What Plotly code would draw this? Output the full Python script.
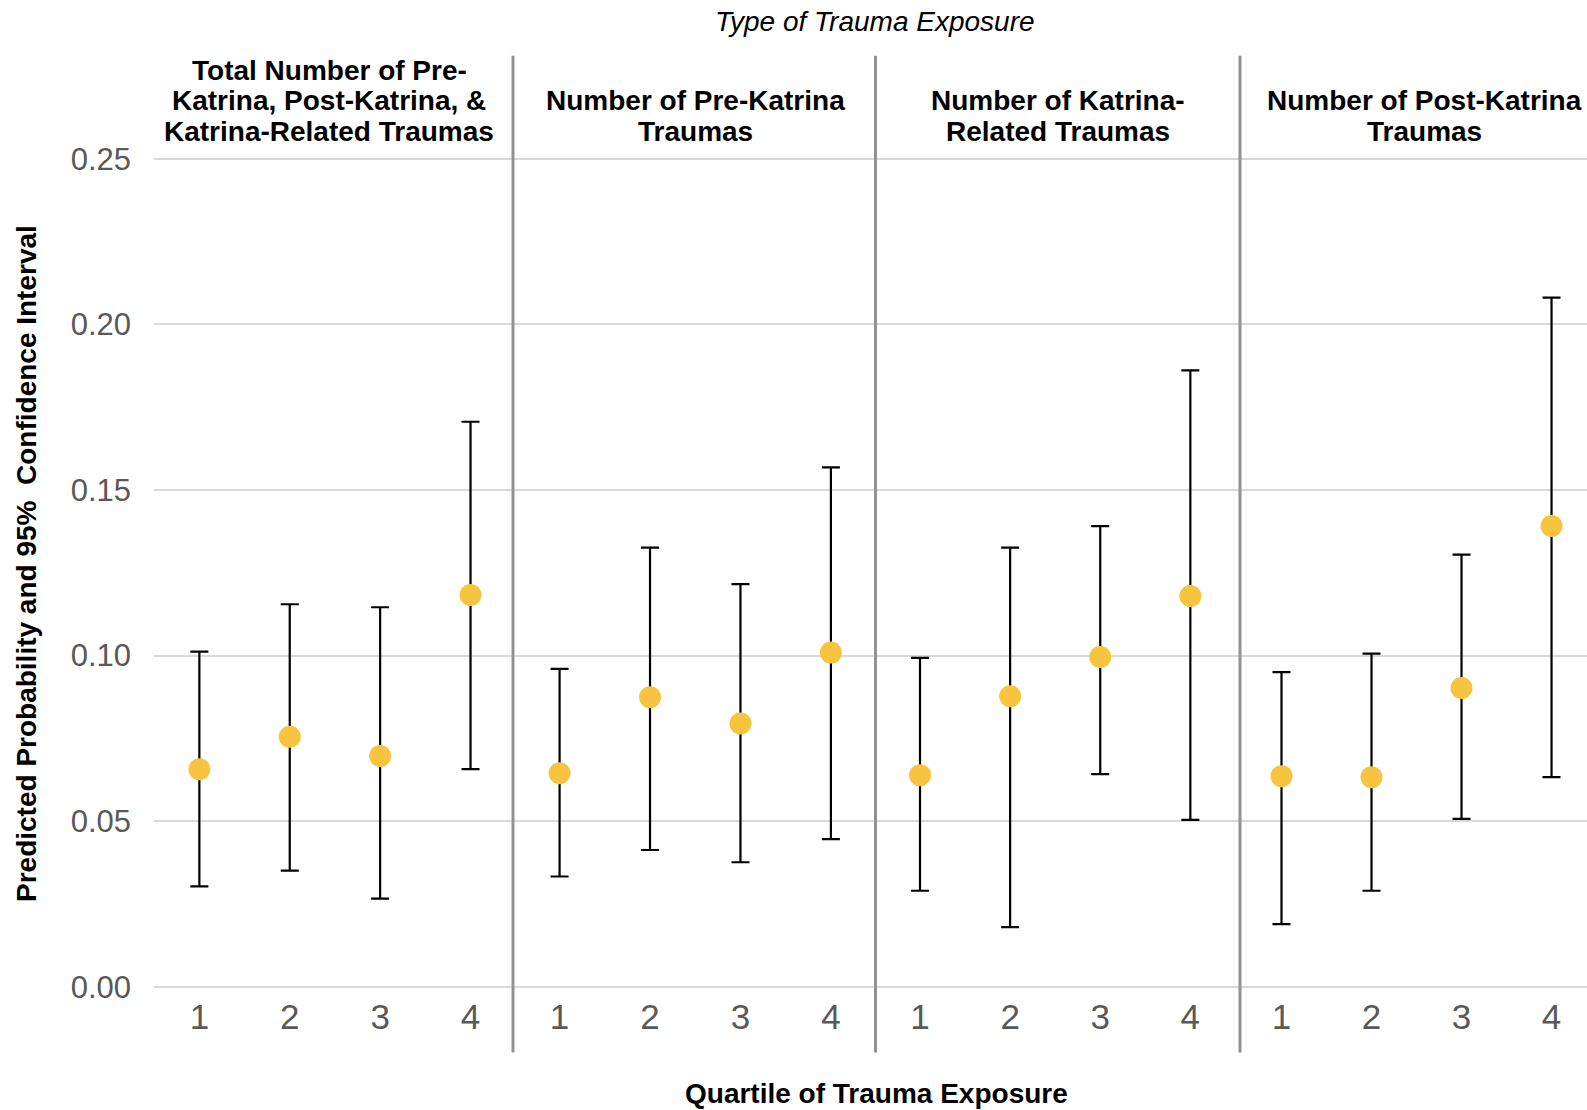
import plotly.graph_objects as go

# Quartiles of trauma exposure
quartiles = [1, 2, 3, 4]

# Panel titles (one entry per line of the strip label)
panel_titles = [
    ["Total Number of Pre-", "Katrina, Post-Katrina, &", "Katrina-Related Traumas"],
    ["Number of Pre-Katrina", "Traumas"],
    ["Number of Katrina-", "Related Traumas"],
    ["Number of Post-Katrina", "Traumas"],
]

# Predicted probabilities with 95% confidence limits, per panel
prob_total = [0.0657, 0.0755, 0.0697, 0.1183]
low_total = [0.0303, 0.0351, 0.0266, 0.0657]
high_total = [0.1012, 0.1155, 0.1146, 0.1706]

prob_pre = [0.0645, 0.0874, 0.0795, 0.1009]
low_pre = [0.0333, 0.0413, 0.0376, 0.0446]
high_pre = [0.0960, 0.1326, 0.1216, 0.1568]

prob_katrina = [0.0639, 0.0877, 0.0996, 0.1180]
low_katrina = [0.0290, 0.0180, 0.0642, 0.0504]
high_katrina = [0.0993, 0.1326, 0.1391, 0.1861]

prob_post = [0.0636, 0.0633, 0.0902, 0.1391]
low_post = [0.0189, 0.0290, 0.0507, 0.0633]
high_post = [0.0950, 0.1006, 0.1305, 0.2081]

y_ticks = [0.00, 0.05, 0.10, 0.15, 0.20, 0.25]

panels = [
    (prob_total, low_total, high_total),
    (prob_pre, low_pre, high_pre),
    (prob_katrina, low_katrina, high_katrina),
    (prob_post, low_post, high_post),
]

W, H = 1587, 1110
M_L, M_R, M_T, M_B = 154, 0, 140, 120
PLOT_W = W - M_L - M_R
PLOT_H = H - M_T - M_B

# panel edges in pixels and the x range each panel spans
edges_px = [154, 513, 875.5, 1240, 1587]
x_ranges = [[0.498, 4.47], [0.485, 4.493], [0.506, 4.551], [0.539, 4.394]]
title_centers_px = [329, 695, 1058, 1424]


def px_x(p):
    return (p - M_L) / PLOT_W


def px_y(p):
    return (H - M_B - p) / PLOT_H


FONT = "Liberation Sans, Arial, Helvetica, sans-serif"
MARKER = "#F7C43F"

fig = go.Figure()

for i, (p, lo, hi) in enumerate(panels):
    suffix = "" if i == 0 else str(i + 1)
    fig.add_trace(go.Scatter(
        x=quartiles,
        y=p,
        mode="markers",
        marker=dict(size=22, color=MARKER, line=dict(width=0)),
        error_y=dict(
            type="data",
            symmetric=False,
            array=[h - v for h, v in zip(hi, p)],
            arrayminus=[v - l for v, l in zip(p, lo)],
            color="black",
            thickness=2.2,
            width=9,
        ),
        xaxis="x" + suffix,
        yaxis="y",
        showlegend=False,
        hoverinfo="skip",
    ))

layout = dict(
    width=W,
    height=H,
    margin=dict(l=M_L, r=M_R, t=M_T, b=M_B),
    paper_bgcolor="white",
    plot_bgcolor="white",
    yaxis=dict(
        range=[-0.00097, 0.25567],
        tickvals=y_ticks,
        ticktext=[f"{v:.2f}" for v in y_ticks],
        tickfont=dict(family=FONT, size=31, color="#595959"),
        showgrid=True,
        gridcolor="#D9D9D9",
        gridwidth=2,
        zeroline=False,
        showline=False,
        ticks="",
        ticklabelstandoff=22,
        anchor="x",
    ),
)

for i in range(4):
    key = "xaxis" if i == 0 else f"xaxis{i + 1}"
    layout[key] = dict(
        domain=[px_x(edges_px[i]), px_x(edges_px[i + 1])],
        range=x_ranges[i],
        tickvals=quartiles,
        ticktext=[str(q) for q in quartiles],
        tickfont=dict(family=FONT, size=35, color="#595959"),
        showgrid=False,
        zeroline=False,
        showline=False,
        ticks="",
        ticklabelstandoff=3,
        anchor="y",
        fixedrange=True,
    )

fig.update_layout(**layout)

# grey separators between panels
for e in edges_px[1:4]:
    fig.add_shape(
        type="line", xref="paper", yref="paper",
        x0=px_x(e), x1=px_x(e), y0=px_y(1052.6), y1=px_y(55.7),
        line=dict(color="#929292", width=3),
    )

annotations = []
# strip labels, bottom-aligned lines
line_centers_px = [70, 100.5, 131]
for i, lines in enumerate(panel_titles):
    offs = line_centers_px[-len(lines):]
    for txt, yc in zip(lines, offs):
        annotations.append(dict(
            text="<b>" + txt + "</b>", xref="paper", yref="paper",
            x=px_x(title_centers_px[i]), y=px_y(yc),
            xanchor="center", yanchor="middle", showarrow=False,
            font=dict(family=FONT, size=28, color="black"),
        ))

annotations.append(dict(
    text="<i>Type of Trauma Exposure</i>", xref="paper", yref="paper",
    x=px_x(875), y=px_y(21), xanchor="center", yanchor="middle",
    showarrow=False, font=dict(family=FONT, size=28, color="black"),
))
annotations.append(dict(
    text="<b>Quartile of Trauma Exposure</b>", xref="paper", yref="paper",
    x=px_x(876), y=px_y(1093), xanchor="center", yanchor="middle",
    showarrow=False, font=dict(family=FONT, size=28, color="black"),
))
annotations.append(dict(
    text="<b>Predicted Probability and 95%  Confidence Interval</b>",
    xref="paper", yref="paper",
    x=px_x(26), y=px_y(564), xanchor="center", yanchor="middle",
    textangle=-90, showarrow=False,
    font=dict(family=FONT, size=28, color="black"),
))

fig.update_layout(annotations=annotations)

fig.write_html("out.html")
